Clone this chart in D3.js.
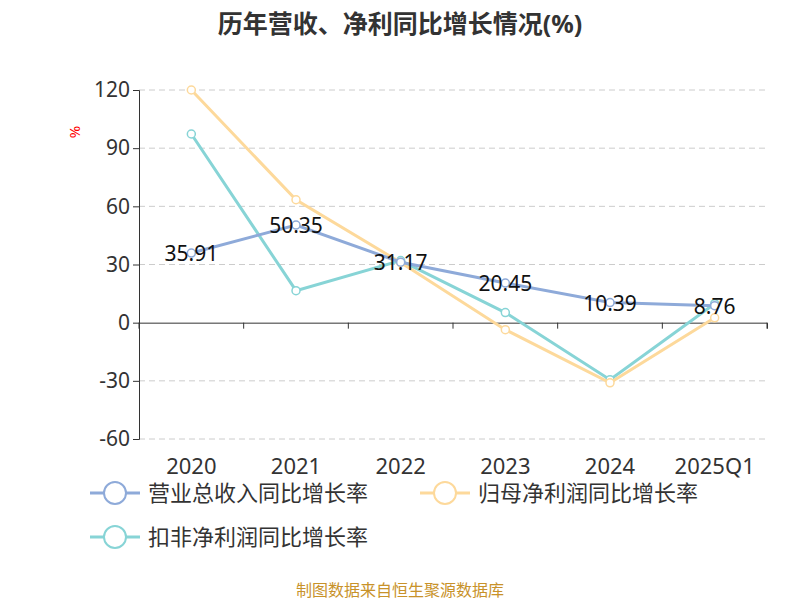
<meta charset="utf-8">
<html>
<head>
<script src="https://cdn.jsdelivr.net/npm/d3@7"></script>
<style>body{margin:0;background:#fff}text{font-family:"Noto Sans","Noto Sans CJK SC",sans-serif}</style>
</head>
<body>
<svg id="chart" width="800" height="600"></svg>
<script>
    // data
    var categories = ["2020", "2021", "2022", "2023", "2024", "2025Q1"];
    var revenue = [35.91, 50.35, 31.17, 20.45, 10.39, 8.76];
    var netProfit = [120, 63.4, 31, -3.6, -31, 2.5];
    var deducted = [97.3, 16.5, 32, 5.2, -29.4, 9.8];
    var yTicks = [-60, -30, 0, 30, 60, 90, 120];

    var series = [
        {name: "营业总收入同比增长率", values: revenue, color: "#8eaad9"},
        {name: "归母净利润同比增长率", values: netProfit, color: "#fdd99b"},
        {name: "扣非净利润同比增长率", values: deducted, color: "#87d4d6"}
    ];

    var svg = d3.select("#chart");
    var x = d3.scaleBand().domain(categories).range([139, 767]);
    var y = d3.scaleLinear().domain([-60, 120]).range([439, 90]);

    svg.append("text").attr("x", 400).attr("y", 33).attr("text-anchor", "middle")
        .attr("font-size", 25).attr("font-weight", "bold").attr("fill", "#333")
        .text("历年营收、净利同比增长情况(%)");

    // grid
    svg.selectAll("line.grid").data(yTicks.filter(function (d) { return d != 0; })).enter()
        .append("line").attr("x1", 139).attr("x2", 767)
        .attr("y1", function (d) { return y(d); }).attr("y2", function (d) { return y(d); })
        .attr("stroke", "#ccc").attr("stroke-dasharray", "6,4");

    var yAxis = svg.append("g").attr("transform", "translate(139,0)")
        .call(d3.axisLeft(y).tickValues(yTicks).tickSize(6).tickFormat(function (d) { return String(d); }));
    yAxis.selectAll("text").attr("font-size", 21).attr("fill", "#333");
    yAxis.selectAll("line,path").attr("stroke", "#333");

    var xAxis = svg.append("g").attr("transform", "translate(0," + y(0) + ")")
        .call(d3.axisBottom(x).tickSizeOuter(0).tickSize(6));
    xAxis.selectAll("text").remove();
    xAxis.selectAll(".tick line").attr("transform", "translate(" + (-x.bandwidth() / 2) + ",0)");
    xAxis.append("line").attr("x1", 767).attr("x2", 767).attr("y2", 6).attr("stroke", "#333");
    xAxis.selectAll("line,path").attr("stroke", "#333");

    svg.selectAll("text.cat").data(categories).enter().append("text")
        .attr("x", function (d) { return x(d) + x.bandwidth() / 2; }).attr("y", 474)
        .attr("text-anchor", "middle").attr("font-size", 22).attr("fill", "#333").text(function (d) { return d; });

    svg.append("text").attr("transform", "translate(80,132) rotate(-90)").attr("text-anchor", "middle")
        .attr("font-size", 15).attr("fill", "red").text("%");

    var line = d3.line()
        .x(function (d, i) { return x(categories[i]) + x.bandwidth() / 2; })
        .y(function (d) { return y(d); });

    [2, 1, 0].forEach(function (k) {
        var s = series[k];
        svg.append("path").datum(s.values).attr("d", line).attr("fill", "none")
            .attr("stroke", s.color).attr("stroke-width", 3);
        svg.selectAll(null).data(s.values).enter().append("circle")
            .attr("cx", function (d, i) { return x(categories[i]) + x.bandwidth() / 2; })
            .attr("cy", function (d) { return y(d); }).attr("r", 4)
            .attr("fill", "#fff").attr("stroke", s.color).attr("stroke-width", 1.5);
    });

    svg.selectAll("text.lbl").data(revenue).enter().append("text")
        .attr("x", function (d, i) { return x(categories[i]) + x.bandwidth() / 2; })
        .attr("y", function (d) { return y(d) + 8; }).attr("text-anchor", "middle")
        .attr("font-size", 21).attr("fill", "#111").text(function (d) { return d.toFixed(2); });

    // legend
    var legPos = [[90, 493], [420, 493], [90, 537]];
    series.forEach(function (s, i) {
        var g = svg.append("g").attr("transform", "translate(" + legPos[i][0] + "," + legPos[i][1] + ")");
        g.append("line").attr("x1", 0).attr("x2", 50).attr("stroke", s.color).attr("stroke-width", 3);
        g.append("circle").attr("cx", 25).attr("r", 11).attr("fill", "#fff").attr("stroke", s.color).attr("stroke-width", 2);
        g.append("text").attr("x", 58).attr("y", 8).attr("font-size", 22).attr("fill", "#333").text(s.name);
    });

    svg.append("text").attr("x", 400).attr("y", 596).attr("text-anchor", "middle")
        .attr("font-size", 16).attr("fill", "#c8922a").text("制图数据来自恒生聚源数据库");
</script>
</body>
</html>
